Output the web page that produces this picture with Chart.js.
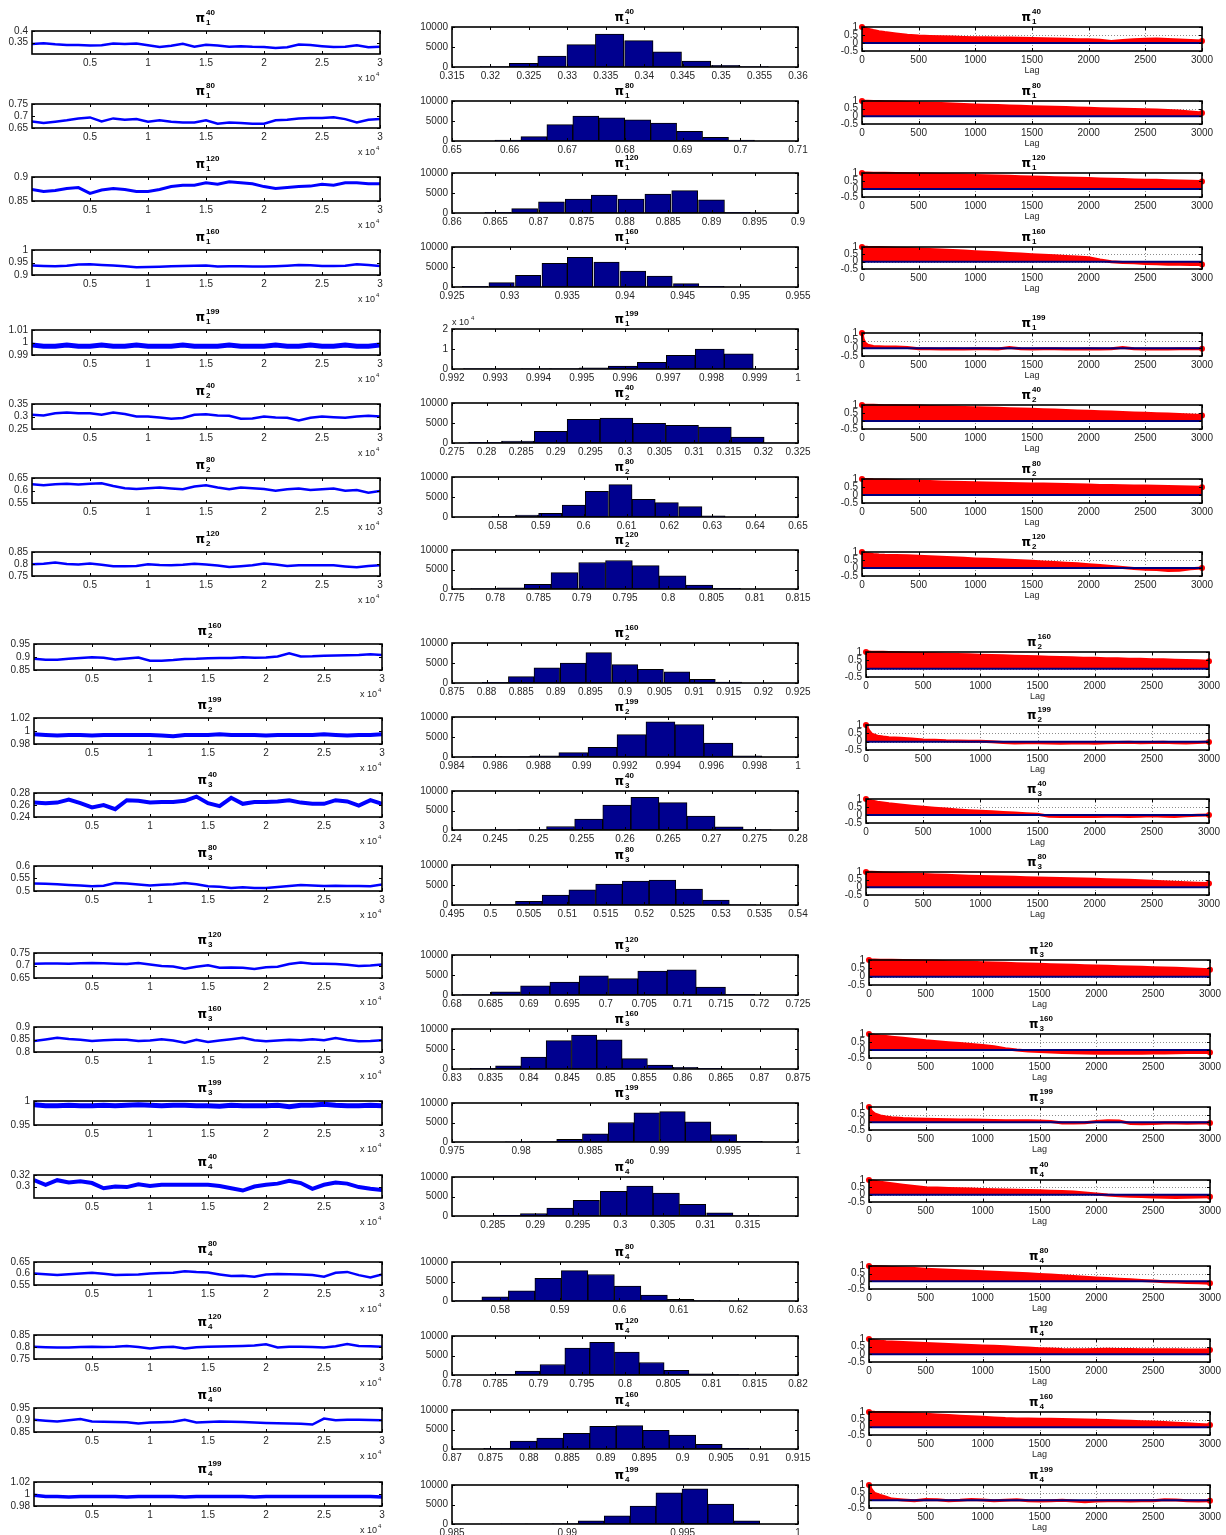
<!DOCTYPE html>
<html><head><meta charset="utf-8">
<script src="https://cdn.jsdelivr.net/npm/chart.js@4.4.0/dist/chart.umd.min.js"></script>
<style>
html,body{margin:0;padding:0;background:#fff;}
#fig{position:relative;width:1226px;height:1535px;overflow:hidden;background:#fff;}
#fig canvas{position:absolute;}
</style></head><body><div id="fig"></div>
<script>
// ---------------- DATA ----------------
const superscripts = [40, 80, 120, 160, 199, 40, 80, 120, 160, 199, 40, 80, 120, 160, 199, 40, 80, 120, 160, 199];
const subscripts   = [1, 1, 1, 1, 1, 2, 2, 2, 2, 2, 3, 3, 3, 3, 3, 4, 4, 4, 4, 4];

// trace plots: sampled every 1000 iterations
const iterations = [0,1000,2000,3000,4000,5000,6000,7000,8000,9000,10000,11000,12000,13000,14000,15000,16000,17000,18000,19000,20000,21000,22000,23000,24000,25000,26000,27000,28000,29000,30000];
const traceXTicks = [5000, 10000, 15000, 20000, 25000, 30000];

const trace_1_40  = [0.344,0.347,0.342,0.339,0.339,0.337,0.338,0.346,0.343,0.346,0.338,0.330,0.336,0.344,0.332,0.340,0.337,0.332,0.334,0.331,0.330,0.326,0.329,0.341,0.339,0.334,0.330,0.332,0.338,0.329,0.332];
const trace_1_80  = [0.677,0.671,0.676,0.682,0.690,0.694,0.677,0.690,0.684,0.687,0.676,0.682,0.676,0.673,0.673,0.682,0.668,0.673,0.671,0.668,0.668,0.682,0.684,0.690,0.692,0.692,0.695,0.687,0.673,0.684,0.688];
const trace_1_120 = [0.874,0.870,0.872,0.876,0.878,0.866,0.873,0.876,0.874,0.870,0.870,0.874,0.880,0.883,0.883,0.888,0.885,0.890,0.888,0.886,0.880,0.876,0.878,0.880,0.881,0.885,0.883,0.888,0.888,0.886,0.886];
const trace_1_160 = [0.938,0.936,0.935,0.937,0.942,0.943,0.940,0.938,0.935,0.931,0.932,0.933,0.935,0.936,0.937,0.938,0.934,0.935,0.935,0.934,0.934,0.935,0.937,0.940,0.939,0.936,0.936,0.937,0.943,0.940,0.936];
const trace_1_199 = [0.998,0.997,0.997,0.998,0.997,0.997,0.998,0.997,0.997,0.998,0.997,0.997,0.997,0.998,0.997,0.997,0.997,0.998,0.997,0.997,0.997,0.998,0.997,0.997,0.998,0.997,0.997,0.998,0.997,0.997,0.998];
const trace_2_40  = [0.307,0.304,0.313,0.316,0.313,0.313,0.307,0.316,0.310,0.300,0.300,0.296,0.291,0.294,0.307,0.309,0.304,0.303,0.291,0.292,0.300,0.296,0.295,0.284,0.295,0.300,0.297,0.295,0.300,0.303,0.300];
const trace_2_80  = [0.625,0.621,0.625,0.627,0.624,0.627,0.629,0.618,0.609,0.606,0.609,0.612,0.608,0.605,0.616,0.621,0.612,0.605,0.612,0.609,0.606,0.599,0.605,0.608,0.602,0.605,0.608,0.599,0.602,0.591,0.598];
const trace_2_120 = [0.799,0.801,0.806,0.800,0.798,0.802,0.797,0.791,0.791,0.792,0.799,0.796,0.795,0.797,0.801,0.798,0.794,0.788,0.791,0.795,0.802,0.798,0.792,0.795,0.795,0.795,0.795,0.790,0.786,0.792,0.795];
const trace_2_160 = [0.893,0.889,0.889,0.893,0.896,0.899,0.897,0.890,0.894,0.898,0.886,0.886,0.888,0.892,0.893,0.895,0.896,0.896,0.899,0.897,0.898,0.902,0.914,0.902,0.903,0.905,0.906,0.907,0.908,0.911,0.908];
const trace_2_199 = [0.995,0.994,0.993,0.994,0.994,0.993,0.994,0.994,0.994,0.994,0.994,0.993,0.992,0.994,0.994,0.994,0.995,0.994,0.994,0.994,0.993,0.994,0.994,0.994,0.994,0.995,0.994,0.993,0.994,0.994,0.995];
const trace_3_40  = [0.264,0.263,0.264,0.269,0.263,0.256,0.260,0.253,0.268,0.267,0.264,0.265,0.265,0.267,0.274,0.263,0.258,0.272,0.262,0.265,0.265,0.266,0.268,0.264,0.262,0.262,0.268,0.266,0.259,0.268,0.262];
const trace_3_80  = [0.530,0.529,0.527,0.524,0.522,0.519,0.521,0.532,0.530,0.526,0.522,0.525,0.527,0.532,0.527,0.519,0.517,0.512,0.515,0.512,0.512,0.516,0.520,0.524,0.522,0.520,0.521,0.520,0.520,0.519,0.526];
const trace_3_120 = [0.707,0.708,0.708,0.707,0.709,0.710,0.709,0.707,0.706,0.710,0.704,0.698,0.696,0.687,0.695,0.701,0.691,0.692,0.691,0.686,0.693,0.695,0.706,0.712,0.707,0.707,0.706,0.703,0.698,0.700,0.704];
const trace_3_160 = [0.844,0.850,0.857,0.852,0.849,0.844,0.847,0.849,0.849,0.844,0.846,0.851,0.846,0.837,0.849,0.840,0.846,0.851,0.857,0.847,0.843,0.846,0.849,0.847,0.851,0.847,0.856,0.848,0.843,0.844,0.847];
const trace_3_199 = [0.992,0.990,0.990,0.991,0.990,0.990,0.991,0.990,0.991,0.992,0.991,0.990,0.991,0.991,0.990,0.990,0.989,0.991,0.990,0.990,0.990,0.991,0.988,0.991,0.991,0.993,0.991,0.990,0.990,0.991,0.990];
const trace_4_40  = [0.311,0.303,0.311,0.307,0.309,0.306,0.297,0.300,0.299,0.304,0.301,0.303,0.303,0.303,0.303,0.303,0.301,0.297,0.293,0.300,0.303,0.305,0.310,0.306,0.296,0.303,0.307,0.305,0.299,0.296,0.294];
const trace_4_80  = [0.600,0.597,0.593,0.597,0.600,0.603,0.599,0.593,0.595,0.596,0.600,0.602,0.603,0.610,0.606,0.604,0.596,0.589,0.590,0.586,0.596,0.598,0.597,0.596,0.593,0.586,0.603,0.607,0.593,0.583,0.596];
const trace_4_120 = [0.801,0.799,0.798,0.798,0.800,0.801,0.800,0.801,0.804,0.800,0.794,0.799,0.801,0.794,0.799,0.801,0.802,0.803,0.804,0.806,0.811,0.798,0.801,0.801,0.800,0.798,0.803,0.812,0.804,0.803,0.801];
const trace_4_160 = [0.901,0.897,0.894,0.899,0.904,0.894,0.893,0.892,0.891,0.885,0.890,0.891,0.893,0.901,0.890,0.892,0.894,0.893,0.892,0.890,0.888,0.886,0.885,0.884,0.881,0.906,0.899,0.901,0.901,0.900,0.899];
const trace_4_199 = [0.998,0.996,0.996,0.995,0.996,0.996,0.996,0.996,0.995,0.996,0.996,0.996,0.996,0.995,0.996,0.996,0.996,0.996,0.996,0.995,0.996,0.996,0.996,0.996,0.996,0.996,0.996,0.996,0.996,0.996,0.995];

// trace y-axis: [min, max] and tick labels
const traceYRange = [[0.30,0.40],[0.65,0.75],[0.85,0.90],[0.90,1.00],[0.99,1.01],[0.25,0.35],[0.55,0.65],[0.75,0.85],[0.85,0.95],[0.98,1.02],[0.24,0.28],[0.50,0.60],[0.65,0.75],[0.80,0.90],[0.95,1.00],[0.28,0.32],[0.55,0.65],[0.75,0.85],[0.85,0.95],[0.98,1.02]];
const traceYTicks = [[0.35,0.4],[0.65,0.7,0.75],[0.85,0.9],[0.9,0.95,1],[0.99,1,1.01],[0.25,0.3,0.35],[0.55,0.6,0.65],[0.75,0.8,0.85],[0.85,0.9,0.95],[0.98,1,1.02],[0.24,0.26,0.28],[0.5,0.55,0.6],[0.65,0.7,0.75],[0.8,0.85,0.9],[0.95,1],[0.3,0.32],[0.55,0.6,0.65],[0.75,0.8,0.85],[0.85,0.9,0.95],[0.98,1,1.02]];

// histograms: bin centres and counts (10 bins)
const histBins_1_40  = [0.3205,0.3243,0.3280,0.3318,0.3355,0.3393,0.3430,0.3468,0.3506,0.3543];
const histCounts_1_40  = [100,900,2700,5600,8200,6600,3800,1500,400,100];
const histBins_1_80  = [0.6597,0.6642,0.6687,0.6732,0.6777,0.6822,0.6867,0.6912,0.6957,0.7002];
const histCounts_1_80  = [200,1100,4100,6250,5800,5300,4500,2400,900,200];
const histBins_1_120 = [0.8653,0.8684,0.8715,0.8746,0.8776,0.8807,0.8838,0.8869,0.8900,0.8930];
const histCounts_1_120 = [150,1100,2800,3500,4500,3500,4750,5600,3300,150];
const histBins_1_160 = [0.9270,0.9293,0.9316,0.9339,0.9361,0.9384,0.9407,0.9430,0.9453,0.9475];
const histCounts_1_160 = [150,1100,2900,5900,7400,6200,4000,2700,850,150];
const histBins_1_199 = [0.99260,0.99327,0.99394,0.99461,0.99528,0.99595,0.99662,0.99729,0.99796,0.99863];
const histCounts_1_199 = [200,100,150,200,600,1500,3300,6800,9900,7600];
const histBins_2_40  = [0.27978,0.28452,0.28927,0.29401,0.29876,0.30350,0.30825,0.31299,0.31774,0.32248];
const histCounts_2_40  = [150,500,2900,5900,6200,4900,4400,4000,1500,50];
const histBins_2_80  = [0.5813,0.5868,0.5922,0.5977,0.6031,0.6086,0.6140,0.6194,0.6249,0.6303];
const histCounts_2_80  = [100,500,900,3000,6400,8100,4400,3600,2600,300];
const histBins_2_120 = [0.7787,0.7818,0.7849,0.7880,0.7912,0.7943,0.7974,0.8005,0.8036,0.8068];
const histCounts_2_120 = [100,300,1200,4200,6800,7300,6000,3400,1000,150];
const histBins_2_160 = [0.8812,0.8850,0.8887,0.8925,0.8962,0.9000,0.9037,0.9075,0.9112,0.9150];
const histCounts_2_160 = [150,1600,3800,5000,7600,4600,3400,2800,900,200];
const histBins_2_199 = [0.98559,0.98693,0.98827,0.98961,0.99096,0.99230,0.99364,0.99498,0.99632,0.99766];
const histCounts_2_199 = [100,100,300,1100,2400,5600,8800,8100,3500,300];
const histBins_3_40  = [0.24605,0.24930,0.25255,0.25580,0.25905,0.26230,0.26555,0.26879,0.27204,0.27529];
const histCounts_3_40  = [50,100,900,2800,6400,8400,7000,3600,800,100];
const histBins_3_80  = [0.50151,0.50499,0.50846,0.51194,0.51542,0.51889,0.52237,0.52585,0.52933,0.53280];
const histCounts_3_80  = [100,900,2500,3800,5200,6000,6200,4000,1200,100];
const histBins_3_120 = [0.68320,0.68701,0.69082,0.69463,0.69844,0.70225,0.70606,0.70987,0.71367,0.71748];
const histCounts_3_120 = [100,800,2300,3200,4800,4100,6000,6300,2000,150];
const histBins_3_160 = [0.83402,0.83731,0.84060,0.84389,0.84719,0.85048,0.85377,0.85706,0.86035,0.86364];
const histCounts_3_160 = [150,800,3000,7100,8500,7300,2600,1000,400,150];
const histBins_3_199 = [0.97977,0.98163,0.98349,0.98535,0.98721,0.98907,0.99093,0.99278,0.99464,0.99650];
const histCounts_3_199 = [50,100,700,2100,5000,7500,7800,5200,1900,150];
const histBins_4_40  = [0.2867,0.2898,0.2929,0.2960,0.2992,0.3023,0.3054,0.3085,0.3117,0.3148];
const histCounts_4_40  = [200,600,2000,4000,6300,7700,5900,3000,800,100];
const histBins_4_80  = [0.57469,0.57914,0.58359,0.58804,0.59249,0.59694,0.60139,0.60584,0.61029,0.61474];
const histCounts_4_80  = [100,1100,2600,5800,7800,6800,3800,1500,400,100];
const histBins_4_120 = [0.78587,0.78874,0.79161,0.79448,0.79735,0.80022,0.80309,0.80596,0.80883,0.81170];
const histCounts_4_120 = [200,1000,2700,6900,8400,5900,3200,1200,300,100];
const histBins_4_160 = [0.87584,0.87929,0.88274,0.88619,0.88963,0.89308,0.89653,0.89997,0.90342,0.90687];
const histCounts_4_160 = [150,2000,2800,4000,5800,6000,4800,3600,1200,200];
const histBins_4_199 = [0.98766,0.98878,0.98991,0.99103,0.99216,0.99328,0.99440,0.99553,0.99665,0.99778];
const histCounts_4_199 = [50,50,100,800,2100,4600,8000,9000,5100,800];

// histogram x-axis range and tick labels
const histXRange = [[0.315,0.36],[0.65,0.71],[0.86,0.9],[0.925,0.955],[0.992,1],[0.275,0.325],[0.5693,0.65],[0.775,0.815],[0.875,0.925],[0.984,1],[0.24,0.28],[0.495,0.54],[0.68,0.725],[0.83,0.875],[0.975,1],[0.2802,0.3209],[0.5719,0.63],[0.78,0.82],[0.87,0.915],[0.985,1]];
const histXTicks = [
  [0.315,0.32,0.325,0.33,0.335,0.34,0.345,0.35,0.355,0.36],
  [0.65,0.66,0.67,0.68,0.69,0.7,0.71],
  [0.86,0.865,0.87,0.875,0.88,0.885,0.89,0.895,0.9],
  [0.925,0.93,0.935,0.94,0.945,0.95,0.955],
  [0.992,0.993,0.994,0.995,0.996,0.997,0.998,0.999,1],
  [0.275,0.28,0.285,0.29,0.295,0.3,0.305,0.31,0.315,0.32,0.325],
  [0.58,0.59,0.6,0.61,0.62,0.63,0.64,0.65],
  [0.775,0.78,0.785,0.79,0.795,0.8,0.805,0.81,0.815],
  [0.875,0.88,0.885,0.89,0.895,0.9,0.905,0.91,0.915,0.92,0.925],
  [0.984,0.986,0.988,0.99,0.992,0.994,0.996,0.998,1],
  [0.24,0.245,0.25,0.255,0.26,0.265,0.27,0.275,0.28],
  [0.495,0.5,0.505,0.51,0.515,0.52,0.525,0.53,0.535,0.54],
  [0.68,0.685,0.69,0.695,0.7,0.705,0.71,0.715,0.72,0.725],
  [0.83,0.835,0.84,0.845,0.85,0.855,0.86,0.865,0.87,0.875],
  [0.975,0.98,0.985,0.99,0.995,1],
  [0.285,0.29,0.295,0.3,0.305,0.31,0.315],
  [0.58,0.59,0.6,0.61,0.62,0.63],
  [0.78,0.785,0.79,0.795,0.8,0.805,0.81,0.815,0.82],
  [0.87,0.875,0.88,0.885,0.89,0.895,0.9,0.905,0.91,0.915],
  [0.985,0.99,0.995,1]
];
const histYTicks = [0, 5000, 10000];
const histYTicksWide = [0, 10000, 20000];

// autocorrelation: lags
const lags = [0,10,25,50,100,150,200,300,400,500,600,700,800,900,1000,1100,1200,1300,1400,1500,1600,1700,1800,1900,2000,2100,2200,2300,2400,2500,2600,2700,2800,2900,3000];
const lagTicks = [0,500,1000,1500,2000,2500,3000];
const acfYTicks = [-0.5,0,0.5,1];

const acf_1_40  = [1,0.96,0.92,0.86,0.78,0.71,0.65,0.57,0.48,0.43,0.41,0.39,0.37,0.35,0.33,0.33,0.32,0.31,0.3,0.28,0.27,0.25,0.23,0.21,0.2,0.17,0.1,0.15,0.2,0.24,0.25,0.22,0.19,0.16,0.12];
const acf_1_80  = [1,1,0.99,0.99,0.97,0.96,0.95,0.93,0.9,0.87,0.85,0.83,0.8,0.77,0.74,0.72,0.7,0.68,0.66,0.63,0.61,0.59,0.57,0.54,0.52,0.5,0.48,0.46,0.45,0.43,0.41,0.38,0.34,0.29,0.22];
const acf_1_120 = [1,1,1,1,0.99,0.99,0.98,0.97,0.95,0.94,0.92,0.9,0.89,0.87,0.85,0.83,0.81,0.79,0.77,0.75,0.73,0.71,0.69,0.67,0.65,0.63,0.61,0.59,0.57,0.55,0.54,0.52,0.5,0.49,0.47];
const acf_1_160 = [1,0.99,0.99,0.98,0.97,0.96,0.95,0.92,0.89,0.86,0.83,0.8,0.76,0.72,0.68,0.64,0.6,0.56,0.52,0.48,0.44,0.4,0.36,0.31,0.27,0.12,0,-0.05,-0.08,-0.12,-0.15,-0.17,-0.18,-0.19,-0.2];
const acf_1_199 = [1,0.6,0.35,0.2,0.12,0.1,0.08,0.08,0.05,-0.03,-0.02,-0.04,-0.03,-0.05,-0.02,-0.03,-0.04,0.05,-0.03,-0.04,-0.03,-0.02,-0.05,-0.04,-0.03,-0.05,-0.03,0.06,-0.02,-0.04,-0.05,-0.04,-0.03,-0.02,-0.02];
const acf_2_40  = [1,1,0.99,0.99,0.98,0.97,0.96,0.95,0.94,0.93,0.91,0.89,0.87,0.85,0.83,0.81,0.79,0.77,0.75,0.73,0.71,0.68,0.66,0.63,0.61,0.58,0.56,0.53,0.5,0.48,0.46,0.44,0.41,0.38,0.35];
const acf_2_80  = [1,0.99,0.98,0.97,0.95,0.94,0.93,0.91,0.88,0.86,0.84,0.82,0.8,0.78,0.76,0.75,0.74,0.72,0.71,0.69,0.68,0.67,0.66,0.64,0.62,0.6,0.59,0.58,0.57,0.56,0.55,0.53,0.52,0.5,0.48];
const acf_2_120 = [1,0.97,0.94,0.9,0.85,0.82,0.8,0.78,0.76,0.73,0.7,0.67,0.64,0.61,0.57,0.54,0.51,0.48,0.45,0.42,0.38,0.34,0.3,0.26,0.21,0.15,0.1,0.03,-0.03,-0.08,-0.1,-0.15,-0.14,-0.05,0];
const acf_2_160 = [1,1,1,0.99,0.99,0.98,0.97,0.95,0.93,0.91,0.89,0.87,0.85,0.83,0.81,0.79,0.77,0.75,0.73,0.71,0.69,0.67,0.65,0.63,0.62,0.6,0.59,0.57,0.56,0.54,0.53,0.51,0.49,0.47,0.45];
const acf_2_199 = [1,0.85,0.65,0.45,0.33,0.28,0.24,0.2,0.16,0.1,0.08,0.05,0.04,0.03,0.02,0,-0.05,-0.08,-0.07,-0.06,-0.08,-0.1,-0.08,-0.07,-0.1,-0.06,-0.05,-0.04,-0.07,-0.05,-0.03,-0.06,-0.08,-0.05,-0.02];
const acf_3_40  = [1,0.97,0.93,0.88,0.8,0.75,0.7,0.62,0.55,0.48,0.42,0.37,0.32,0.27,0.23,0.2,0.16,0.12,0.08,0.04,-0.08,-0.1,-0.1,-0.1,-0.1,-0.08,-0.08,-0.09,-0.08,-0.05,-0.08,-0.1,-0.05,-0.02,0];
const acf_3_80  = [1,1,0.99,0.98,0.96,0.94,0.92,0.89,0.86,0.83,0.8,0.78,0.75,0.73,0.71,0.69,0.67,0.65,0.63,0.61,0.6,0.58,0.56,0.54,0.52,0.5,0.48,0.46,0.43,0.4,0.37,0.33,0.3,0.27,0.25];
const acf_3_120 = [1,1,1,1,0.99,0.99,0.98,0.97,0.96,0.94,0.92,0.9,0.88,0.86,0.84,0.82,0.8,0.78,0.76,0.74,0.72,0.7,0.68,0.66,0.64,0.62,0.6,0.58,0.56,0.54,0.52,0.5,0.48,0.45,0.42];
const acf_3_160 = [1,0.98,0.96,0.93,0.88,0.84,0.8,0.73,0.66,0.58,0.52,0.46,0.4,0.34,0.28,0.2,0.08,0,-0.06,-0.1,-0.13,-0.15,-0.17,-0.19,-0.2,-0.21,-0.21,-0.2,-0.2,-0.19,-0.18,-0.17,-0.16,-0.15,-0.15];
const acf_3_199 = [1,0.85,0.7,0.55,0.42,0.35,0.3,0.25,0.22,0.2,0.18,0.17,0.15,0.15,0.14,0.12,0.1,0.1,0.1,0.08,0.05,-0.05,-0.05,-0.02,0.05,0.1,0.08,-0.08,-0.1,-0.08,-0.05,-0.05,-0.06,-0.05,-0.05];
const acf_4_40  = [1,0.98,0.95,0.92,0.85,0.8,0.75,0.65,0.56,0.48,0.45,0.42,0.4,0.38,0.36,0.34,0.32,0.3,0.28,0.26,0.24,0.22,0.18,0.12,0.05,-0.02,-0.07,-0.1,-0.13,-0.16,-0.18,-0.2,-0.18,-0.16,-0.15];
const acf_4_80  = [1,0.99,0.98,0.97,0.95,0.93,0.91,0.87,0.83,0.79,0.76,0.72,0.69,0.66,0.62,0.59,0.56,0.52,0.49,0.45,0.41,0.37,0.32,0.27,0.22,0.18,0.14,0.1,0.06,0.02,-0.02,-0.05,-0.08,-0.1,-0.12];
const acf_4_120 = [1,0.97,0.94,0.9,0.85,0.82,0.8,0.77,0.74,0.7,0.67,0.64,0.61,0.58,0.55,0.52,0.49,0.45,0.41,0.37,0.34,0.31,0.3,0.3,0.32,0.33,0.32,0.31,0.3,0.3,0.3,0.3,0.29,0.29,0.28];
const acf_4_160 = [1,1,0.99,0.98,0.97,0.96,0.95,0.92,0.89,0.85,0.81,0.77,0.73,0.69,0.65,0.61,0.57,0.55,0.54,0.53,0.52,0.51,0.5,0.48,0.46,0.44,0.42,0.4,0.37,0.34,0.31,0.27,0.23,0.19,0.15];
const acf_4_199 = [1,0.85,0.65,0.45,0.32,0.2,0.08,0.02,-0.03,0.05,0.03,-0.02,0,0.05,0.02,-0.03,0,0.03,-0.02,-0.05,-0.03,0,-0.05,-0.1,-0.05,-0.03,-0.02,-0.05,-0.02,-0.03,0.03,0.02,-0.02,-0.05,-0.03];

// ---------------- LAYOUT (pixel boxes of each axes) ----------------
const traceRows = [[31,54],[104,128],[177,201],[250,275],[330,355],[404,429],[478,503],[552,576],[644,670],[718,744],[793,817],[866,891],[953,978],[1027,1052],[1101,1125],[1175,1198],[1262,1285],[1335,1359],[1408,1432],[1482,1506]];
const histRows  = [[27,67],[101,141],[173,213],[247,287],[329,369],[403,443],[477,517],[550,589],[643,683],[717,757],[791,830],[865,905],[955,995],[1029,1069],[1103,1142],[1177,1216],[1262,1301],[1336,1375],[1410,1449],[1485,1524]];
const acfRows   = [[27,51],[101,124],[173,197],[247,269],[333,356],[405,429],[479,503],[552,576],[652,677],[725,750],[799,823],[872,895],[960,985],[1034,1058],[1107,1130],[1180,1202],[1266,1289],[1339,1362],[1412,1435],[1485,1508]];
function traceX(i){ return i < 8 ? [32,380] : [34,382]; }
function histX(i){ return [452,798]; }
function acfX(i){ return i < 8 ? [862,1202] : (i < 12 ? [866,1209] : [869,1210]); }
const traceLineWidth = [2.5,2.5,3,2.5,5,2.5,2.5,2.5,2.5,4,4,2.5,2.5,2.5,5,4,2.5,2.5,2.5,3.5];

// ---------------- RENDERING ----------------
const FONT = {family: '"Liberation Sans", Arial, Helvetica, sans-serif', size: 10};
const LABEL = '#262626';
const fig = document.getElementById('fig');
function fmt(v){ return String(parseFloat(Number(v).toPrecision(6))); }

const decor = {
  id: 'decor',
  beforeDatasetsDraw(chart, args, o) {
    if (!o || !o.grid) return;
    const {ctx, chartArea: a, scales: {x, y}} = chart;
    ctx.save();
    ctx.strokeStyle = 'rgba(0,0,0,0.45)'; ctx.lineWidth = 1; ctx.setLineDash([1, 2]);
    x.ticks.forEach(t => { const p = Math.round(x.getPixelForValue(t.value)) + 0.5; if (p < a.left + 2 || p > a.right - 2) return; ctx.beginPath(); ctx.moveTo(p, a.top); ctx.lineTo(p, a.bottom); ctx.stroke(); });
    y.ticks.forEach(t => { const p = Math.round(y.getPixelForValue(t.value)) + 0.5; if (p < a.top + 2 || p > a.bottom - 2) return; ctx.beginPath(); ctx.moveTo(a.left, p); ctx.lineTo(a.right, p); ctx.stroke(); });
    ctx.restore();
  },
  afterDraw(chart, args, o) {
    if (!o || o.sup === undefined) return;
    const {ctx, chartArea: a, scales: {x, y}} = chart;
    ctx.save();
    ctx.strokeStyle = '#000'; ctx.lineWidth = 1; ctx.setLineDash([]);
    ctx.beginPath();
    x.ticks.forEach(t => { const p = Math.round(x.getPixelForValue(t.value)) + 0.5; ctx.moveTo(p, a.bottom); ctx.lineTo(p, a.bottom - 3); ctx.moveTo(p, a.top); ctx.lineTo(p, a.top + 3); });
    y.ticks.forEach(t => { const p = Math.round(y.getPixelForValue(t.value)) + 0.5; ctx.moveTo(a.left, p); ctx.lineTo(a.left + 3, p); ctx.moveTo(a.right, p); ctx.lineTo(a.right - 3, p); });
    ctx.stroke();
    ctx.lineWidth = 1.6;
    ctx.strokeRect(a.left, a.top, a.right - a.left, a.bottom - a.top);
    // title  pi^{sup}_{sub}
    const cx = (a.left + a.right) / 2, cy = a.top - o.titleGap;
    ctx.fillStyle = '#000'; ctx.textBaseline = 'middle';
    ctx.font = 'bold 12px "DejaVu Sans", sans-serif'; ctx.textAlign = 'right';
    ctx.fillText('π', cx - 1, cy + 1);
    ctx.font = 'bold 8px "Liberation Sans", Arial, sans-serif'; ctx.textAlign = 'left';
    ctx.fillText(String(o.sup), cx, cy - 5);
    ctx.fillText(String(o.sub), cx, cy + 5);
    ctx.fillStyle = LABEL;
    if (o.xExp) {
      ctx.font = '9px "Liberation Sans", Arial, sans-serif'; ctx.textAlign = 'right'; ctx.textBaseline = 'alphabetic';
      ctx.fillText('x 10', a.right - 5, a.bottom + 27);
      ctx.font = '6px "Liberation Sans", Arial, sans-serif'; ctx.textAlign = 'left';
      ctx.fillText('4', a.right - 4, a.bottom + 22);
    }
    if (o.yExp) {
      ctx.font = '9px "Liberation Sans", Arial, sans-serif'; ctx.textAlign = 'left'; ctx.textBaseline = 'alphabetic';
      ctx.fillText('x 10', a.left, a.top - 4);
      ctx.font = '6px "Liberation Sans", Arial, sans-serif';
      ctx.fillText('4', a.left + 19, a.top - 9);
    }
    if (o.lag) {
      ctx.font = '9px "Liberation Sans", Arial, sans-serif'; ctx.textAlign = 'center'; ctx.textBaseline = 'middle';
      ctx.fillText('Lag', cx, a.bottom + 20);
    }
    ctx.restore();
  }
};
Chart.register(decor);

function makeScale(min, max, ticks, labelFn, fitFn) {
  return {
    type: 'linear', min: min, max: max, offset: false,
    afterBuildTicks: s => { s.ticks = ticks.map(v => ({value: v})); },
    afterFit: fitFn,
    grid: {display: false, drawTicks: false},
    border: {display: false},
    ticks: {font: FONT, color: LABEL, padding: 3, autoSkip: false, maxRotation: 0, minRotation: 0, callback: v => labelFn(v)}
  };
}

function panel(box, pads, type, datasets, xs, ys, decorOpts) {
  const [l, r, t, b] = box; const [pl, pr, pt, pb] = pads;
  const W = (r - l) + pl + pr, H = (b - t) + pt + pb;
  const c = document.createElement('canvas');
  c.width = W; c.height = H;
  c.style.left = (l - pl) + 'px'; c.style.top = (t - pt) + 'px';
  c.style.width = W + 'px'; c.style.height = H + 'px';
  fig.appendChild(c);
  xs.afterFit = s => { s.height = pb; };
  ys.afterFit = s => { s.width = pl; };
  ys.ticks.padding = 4;
  new Chart(c.getContext('2d'), {
    type: type,
    data: {datasets: datasets},
    options: {
      responsive: false, animation: false, devicePixelRatio: 1,
      layout: {padding: {top: pt, right: pr, left: 0, bottom: 0}},
      plugins: {legend: {display: false}, tooltip: {enabled: false}, title: {display: false}, decor: decorOpts},
      scales: {x: xs, y: ys}
    }
  });
}

const traces = [trace_1_40,trace_1_80,trace_1_120,trace_1_160,trace_1_199,trace_2_40,trace_2_80,trace_2_120,trace_2_160,trace_2_199,trace_3_40,trace_3_80,trace_3_120,trace_3_160,trace_3_199,trace_4_40,trace_4_80,trace_4_120,trace_4_160,trace_4_199];
const histBins = [histBins_1_40,histBins_1_80,histBins_1_120,histBins_1_160,histBins_1_199,histBins_2_40,histBins_2_80,histBins_2_120,histBins_2_160,histBins_2_199,histBins_3_40,histBins_3_80,histBins_3_120,histBins_3_160,histBins_3_199,histBins_4_40,histBins_4_80,histBins_4_120,histBins_4_160,histBins_4_199];
const histCounts = [histCounts_1_40,histCounts_1_80,histCounts_1_120,histCounts_1_160,histCounts_1_199,histCounts_2_40,histCounts_2_80,histCounts_2_120,histCounts_2_160,histCounts_2_199,histCounts_3_40,histCounts_3_80,histCounts_3_120,histCounts_3_160,histCounts_3_199,histCounts_4_40,histCounts_4_80,histCounts_4_120,histCounts_4_160,histCounts_4_199];
const acfs = [acf_1_40,acf_1_80,acf_1_120,acf_1_160,acf_1_199,acf_2_40,acf_2_80,acf_2_120,acf_2_160,acf_2_199,acf_3_40,acf_3_80,acf_3_120,acf_3_160,acf_3_199,acf_4_40,acf_4_80,acf_4_120,acf_4_160,acf_4_199];

const endMarker = c => (c.dataIndex === 0 || c.dataIndex === lags.length - 1) ? 3 : 0;

for (let i = 0; i < 20; i++) {
  const sup = superscripts[i], sub = subscripts[i];
  // --- trace ---
  const [tl, tr] = traceX(i);
  panel([tl, tr, traceRows[i][0], traceRows[i][1]], [40, 18, 26, 32], 'line',
    [{data: iterations.map((it, k) => ({x: it, y: traces[i][k]})), borderColor: '#0000ff', borderWidth: traceLineWidth[i], pointRadius: 0, tension: 0, fill: false}],
    makeScale(0, 30000, traceXTicks, v => fmt(v / 10000)),
    makeScale(traceYRange[i][0], traceYRange[i][1], traceYTicks[i], v => fmt(v)),
    {sup: sup, sub: sub, titleGap: 13, xExp: true});
  // --- histogram ---
  const wide = (i === 4);
  panel([histX(i)[0], histX(i)[1], histRows[i][0], histRows[i][1]], [40, 18, 24, 16], 'bar',
    [{data: histBins[i].map((c, k) => ({x: c, y: histCounts[i][k]})), backgroundColor: '#00008f', borderColor: '#000', borderWidth: 1, barPercentage: 1, categoryPercentage: 1, borderSkipped: false}],
    makeScale(histXRange[i][0], histXRange[i][1], histXTicks[i], v => fmt(v)),
    makeScale(0, wide ? 20000 : 10000, wide ? histYTicksWide : histYTicks, v => wide ? fmt(v / 10000) : fmt(v)),
    {sup: sup, sub: sub, titleGap: 10, yExp: wide});
  // --- autocorrelation ---
  const [al, ar] = acfX(i);
  panel([al, ar, acfRows[i][0], acfRows[i][1]], [40, 18, 24, 30], 'line',
    [{data: [{x: 0, y: 0}, {x: 3000, y: 0}], borderColor: '#00007a', borderWidth: 2, pointRadius: 0, fill: false},
     {data: lags.map((g, k) => ({x: g, y: acfs[i][k]})), borderColor: '#ff0000', backgroundColor: '#ff0000', borderWidth: 3, pointRadius: endMarker, pointBackgroundColor: '#ff0000', pointBorderColor: '#ff0000', pointBorderWidth: 0, tension: 0, fill: 'origin', clip: 4}],
    makeScale(0, 3000, lagTicks, v => fmt(v)),
    makeScale(-0.5, 1, acfYTicks, v => fmt(v)),
    {sup: sup, sub: sub, titleGap: 10, lag: true, grid: true});
}
</script></body></html>
